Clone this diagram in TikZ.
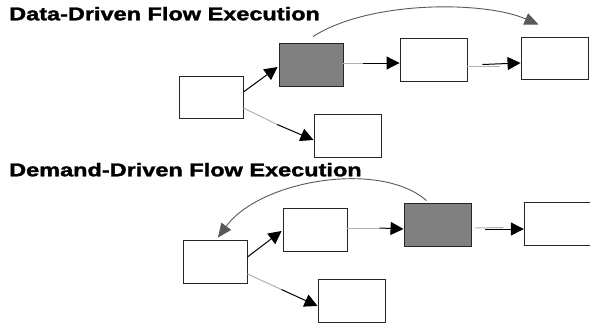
\documentclass[tikz,border=0pt]{standalone}
\usepackage{fontspec}
\usepackage{graphicx}
\setmainfont{Liberation Sans}
\newfontfamily\titlefont{Liberation Sans Bold}[FakeBold=1.5]
\usetikzlibrary{arrows.meta,calc}
\tikzset{
  box/.style={draw=black!85, line width=0.9pt, fill=white, inner sep=0pt, minimum width=64pt, minimum height=43pt},
  wide/.style={minimum width=67pt},
  busy/.style={fill=black!50},
  graypart/.style={draw=black!30, line width=1pt},
  blackpart/.style={draw=black, line width=1pt, -{Triangle[length=13pt,width=13pt]}},
  jump/.style={draw=black!65, line width=0.9pt, -{Triangle[length=14pt,width=12pt]}},
  title/.style={anchor=base west, inner sep=0pt, font=\fontsize{18.5pt}{21pt}\titlefont}
}
\begin{document}
\begin{tikzpicture}[x=1pt,y=-1pt]
\useasboundingbox (0,0) rectangle (590,324);
% titles
\node[title] (t1) at (9,20.3) {\scalebox{1.27}[1]{Data-Driven Flow Execution}};
\node[title] (t2) at (9,176.3) {\scalebox{1.27}[1]{Demand-Driven Flow Execution}};
% top diagram
\node[box, minimum height=42pt] (A) at (211,97) {};
\node[box, busy] (B) at (311,64.5) {};
\node[box, wide] (C) at (433.5,59.5) {};
\node[box, wide, minimum height=42pt] (D) at (554.5,58) {};
\node[box, wide] (E) at (347.5,135.5) {};
\draw[blackpart] ($(A.east)+(0,-5)$) -- ($(B.west)+(-1,2.5)$);
\draw[graypart] ($(A.east)+(0,11)$) -- ($(A.east)!0.48!(E.west)+(0,9)$) coordinate (ae);
\draw[blackpart] (ae) -- ($(E.west)+(0,4.5)$);
\draw[graypart] ($(B.east)+(0,-1.5)$) -- ($(B.east)+(20,-1.5)$) coordinate (bc);
\draw[blackpart] (bc) -- ($(C.west)+(0,3.5)$);
\draw[graypart] ($(C.east)+(0,7)$) -- ($(C.east)+(33,7)$);
\draw[blackpart] ($(C.east)+(15,5)$) coordinate (cd) -- ($(D.west)+(0,5)$);
\draw[jump] ($(B.north)+(2,-6)$) .. controls (370,0) and (485,1) .. ($(D.north)+(-16,-12)$);
% bottom diagram
\node[box] (A2) at (215,261.5) {};
\node[box] (B2) at (315,229.5) {};
\node[box, wide, busy] (C2) at (437.5,224.5) {};
\node[box, wide] (D2) at (557.8,223.5) {};
\node[box, wide] (E2) at (351.5,300.5) {};
\draw[blackpart] ($(A2.east)+(0,-4.5)$) -- ($(B2.west)+(-1,1.5)$);
\draw[graypart] ($(A2.east)+(0,12.5)$) -- ($(A2.east)+(34,28)$) coordinate (ae2);
\draw[blackpart] (ae2) -- ($(E2.west)+(0,5.5)$);
\draw[graypart] ($(B2.east)+(0,-1.5)$) -- ($(B2.east)+(32,-1.5)$) coordinate (bc2);
\draw[blackpart] (bc2) -- ($(C2.west)+(0,4.5)$);
\draw[graypart] ($(C2.east)+(4,3.5)$) -- ($(C2.east)+(32,3)$);
\draw[blackpart] ($(C2.east)+(14,4.5)$) coordinate (cd2) -- ($(D2.west)+(0,5.5)$);
\draw[jump] ($(C2.north)+(-11,-2)$) .. controls (380,160) and (260,180) .. ($(A2.north)+(3,-2)$);
\end{tikzpicture}
\end{document}
